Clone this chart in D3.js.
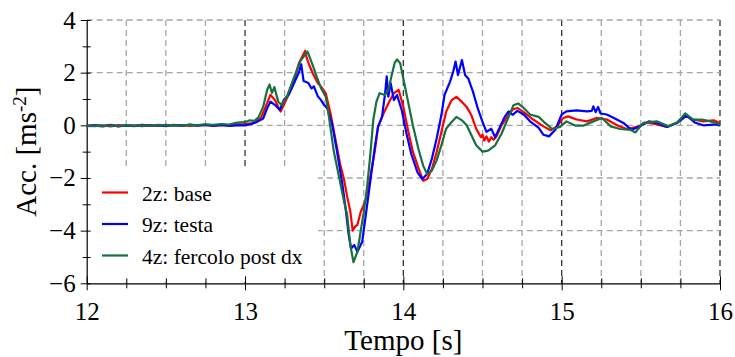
<!DOCTYPE html>
<html>
<head>
<meta charset="utf-8">
<script src="https://cdn.jsdelivr.net/npm/d3@7"></script>
<style>
  body { margin: 0; background: #fff; }
  svg { display: block; }
  svg text { font-family: "Liberation Serif", "Times New Roman", serif !important; fill: #000; }
</style>
</head>
<body>
<script>
// series labels and colours (legend order)
const seriesNames = ['2z: base', '9z: testa', '4z: fercolo post dx'];
const seriesColors = ['#ff0000', '#0000ff', '#17703f'];

// [time s, acc m/s^2]
const base = [
  [12.00,-0.02],[12.05,-0.03],[12.10,0.00],[12.15,-0.04],[12.20,0.01],[12.25,-0.02],[12.30,0.00],[12.35,-0.03],
  [12.40,0.01],[12.45,-0.02],[12.50,0.02],[12.55,-0.01],[12.60,0.01],[12.65,-0.02],[12.70,0.00],[12.75,0.02],
  [12.80,-0.01],[12.85,0.03],[12.90,0.00],[12.95,0.04],[13.00,0.05],[13.05,0.08],[13.10,0.27],[13.13,0.70],
  [13.16,1.16],[13.19,0.95],[13.225,0.52],[13.26,0.97],[13.30,1.48],[13.34,2.36],[13.38,2.83],[13.39,2.55],
  [13.405,2.30],[13.43,1.95],[13.46,1.60],[13.48,1.47],[13.51,1.22],[13.54,0.45],[13.57,-0.50],[13.60,-1.45],
  [13.625,-2.05],[13.645,-2.70],[13.665,-3.27],[13.68,-4.00],[13.695,-3.85],[13.71,-3.78],[13.73,-3.30],
  [13.76,-2.88],[13.79,-2.00],[13.82,-0.96],[13.84,-0.06],[13.875,0.45],[13.905,0.83],[13.94,1.22],[13.97,1.35],
  [14.00,0.70],[14.03,-0.20],[14.06,-1.00],[14.095,-1.62],[14.125,-2.10],[14.15,-2.04],[14.18,-1.66],
  [14.21,-1.02],[14.24,-0.25],[14.27,0.51],[14.305,0.96],[14.335,1.08],[14.37,0.89],[14.40,0.70],[14.43,0.38],
  [14.46,-0.13],[14.49,-0.45],[14.50,-0.35],[14.51,-0.58],[14.525,-0.42],[14.54,-0.62],[14.555,-0.45],
  [14.57,-0.55],[14.59,-0.40],[14.62,0.00],[14.645,0.22],[14.69,0.60],[14.72,0.66],[14.76,0.50],[14.82,0.22],
  [14.885,-0.04],[14.93,-0.19],[14.97,-0.04],[15.01,0.28],[15.04,0.34],[15.095,0.22],[15.16,0.15],[15.22,0.28],
  [15.285,0.22],[15.35,0.00],[15.41,-0.14],[15.475,-0.06],[15.54,0.11],[15.60,0.03],[15.665,-0.06],[15.73,0.11],
  [15.78,0.37],[15.83,0.22],[15.895,0.15],[15.96,0.19],[16.00,0.09]
];
const testa = [
  [12.00,-0.02],[12.05,0.01],[12.10,-0.03],[12.15,0.02],[12.20,-0.04],[12.25,0.00],[12.30,-0.03],[12.35,0.02],
  [12.40,-0.02],[12.45,0.01],[12.50,-0.03],[12.55,0.02],[12.60,-0.02],[12.65,0.03],[12.70,-0.01],[12.75,0.02],
  [12.80,-0.02],[12.85,0.01],[12.90,-0.02],[12.95,0.00],[13.00,0.00],[13.04,0.05],[13.075,0.13],[13.115,0.26],
  [13.14,0.65],[13.16,0.90],[13.19,0.77],[13.22,0.58],[13.245,0.97],[13.275,1.16],[13.31,1.61],[13.34,2.00],
  [13.355,2.32],[13.37,1.68],[13.40,1.61],[13.42,1.40],[13.435,1.48],[13.46,1.10],[13.48,0.96],[13.50,0.77],
  [13.52,0.64],[13.55,0.06],[13.58,-0.96],[13.615,-2.24],[13.635,-3.14],[13.655,-4.17],[13.67,-4.68],
  [13.69,-4.55],[13.71,-4.80],[13.74,-4.42],[13.76,-3.53],[13.78,-2.63],[13.80,-1.73],[13.82,-0.83],
  [13.84,-0.06],[13.865,0.32],[13.885,1.22],[13.895,1.86],[13.905,1.09],[13.92,1.60],[13.94,0.96],[13.96,1.15],
  [13.99,0.58],[14.02,-0.32],[14.05,-1.09],[14.09,-1.80],[14.12,-2.04],[14.15,-1.85],[14.18,-1.27],[14.21,-0.51],
  [14.24,0.38],[14.26,1.15],[14.295,1.66],[14.315,2.04],[14.33,2.42],[14.345,1.91],[14.37,2.48],[14.39,1.91],
  [14.41,1.78],[14.44,1.27],[14.47,0.64],[14.50,0.13],[14.525,-0.25],[14.555,-0.13],[14.58,-0.45],[14.61,-0.06],
  [14.64,0.32],[14.665,0.53],[14.69,0.40],[14.72,0.55],[14.76,0.41],[14.80,0.15],[14.855,-0.10],[14.885,-0.36],
  [14.92,-0.42],[14.96,-0.17],[15.00,0.41],[15.03,0.53],[15.095,0.57],[15.16,0.53],[15.19,0.55],[15.20,0.72],
  [15.215,0.50],[15.23,0.70],[15.245,0.45],[15.285,0.41],[15.33,0.28],[15.39,0.09],[15.44,-0.17],[15.495,-0.04],
  [15.55,0.15],[15.60,0.09],[15.665,-0.06],[15.73,0.09],[15.79,0.37],[15.84,0.11],[15.895,0.00],[15.96,0.03],
  [16.00,0.00]
];
const fercolo = [
  [12.00,-0.03],[12.05,-0.01],[12.10,-0.04],[12.15,0.00],[12.20,-0.03],[12.25,0.01],[12.30,-0.02],[12.35,0.00],
  [12.40,-0.01],[12.45,0.02],[12.50,0.00],[12.55,0.01],[12.60,-0.01],[12.65,0.02],[12.70,0.01],[12.75,0.04],
  [12.80,0.02],[12.85,0.05],[12.90,0.03],[12.95,0.10],[13.00,0.12],[13.03,0.19],[13.06,0.17],[13.085,0.30],
  [13.115,0.71],[13.14,1.35],[13.155,1.55],[13.17,1.23],[13.185,1.45],[13.21,0.90],[13.23,0.77],[13.265,1.10],
  [13.305,1.74],[13.35,2.45],[13.375,2.65],[13.395,2.80],[13.425,2.32],[13.455,1.81],[13.48,1.41],[13.51,1.09],
  [13.53,0.32],[13.56,-0.96],[13.595,-1.99],[13.625,-2.88],[13.645,-3.40],[13.665,-4.55],[13.685,-5.20],
  [13.71,-4.80],[13.73,-4.04],[13.75,-3.30],[13.77,-2.40],[13.79,-1.20],[13.81,0.20],[13.83,0.90],[13.85,1.22],
  [13.885,1.15],[13.905,1.35],[13.925,1.86],[13.945,2.37],[13.96,2.50],[13.98,2.36],[14.00,1.78],[14.03,0.89],
  [14.06,0.00],[14.095,-0.89],[14.125,-1.53],[14.15,-1.85],[14.18,-1.72],[14.21,-1.34],[14.24,-0.76],
  [14.27,-0.13],[14.305,0.13],[14.335,0.32],[14.37,0.19],[14.40,0.00],[14.43,-0.38],[14.46,-0.76],[14.50,-1.00],
  [14.535,-0.96],[14.58,-0.76],[14.62,-0.32],[14.66,0.25],[14.695,0.76],[14.725,0.83],[14.76,0.66],[14.80,0.41],
  [14.855,0.32],[14.895,0.09],[14.94,-0.14],[14.99,-0.06],[15.03,0.15],[15.085,-0.01],[15.14,-0.01],[15.20,0.15],
  [15.255,0.28],[15.31,-0.04],[15.37,-0.14],[15.435,-0.17],[15.465,-0.27],[15.515,0.09],[15.60,0.15],
  [15.675,-0.04],[15.73,0.11],[15.78,0.45],[15.83,0.22],[15.885,0.22],[15.94,0.15],[16.00,0.03]
];

// axis ticks
const xMajorTicks = [12, 13, 14, 15, 16];
const xMinorTicks = d3.range(0, 17).map(i => 12 + i * 0.25);
const yMajorTicks = [-6, -4, -2, 0, 2, 4];
const yMinorTicks = [-5, -3, -1, 1, 3];

const width = 735, height = 357;
const marginLeft = 86.7, marginRight = 15, marginTop = 20, marginBottom = 73.7;

const x = d3.scaleLinear([12, 16], [marginLeft, width - marginRight]);
const y = d3.scaleLinear([-6, 4], [height - marginBottom, marginTop]);

const svg = d3.select('body').append('svg')
    .attr('width', width)
    .attr('height', height)
    .attr('viewBox', [0, 0, width, height]);

// vertical grid (every 0.25 s, darker on whole seconds)
svg.append('g')
    .selectAll('line')
    .data(xMinorTicks.filter(t => t > 12))
    .join('line')
    .attr('x1', d => x(d)).attr('x2', d => x(d))
    .attr('y1', y(4)).attr('y2', y(-6))
    .attr('stroke', d => Number.isInteger(d) ? '#333' : '#a6a6a6')
    .attr('stroke-width', 1.3)
    .attr('stroke-dasharray', '6,4');

// horizontal grid on major y ticks
svg.append('g')
    .selectAll('line')
    .data(yMajorTicks.filter(v => v > -6))
    .join('line')
    .attr('x1', x(12)).attr('x2', x(16))
    .attr('y1', d => y(d)).attr('y2', d => y(d))
    .attr('stroke', '#a6a6a6')
    .attr('stroke-width', 1.3)
    .attr('stroke-dasharray', '6,4');

// legend background hides the grid
svg.append('rect')
    .attr('x', 88).attr('y', 167)
    .attr('width', 230).attr('height', 115)
    .attr('fill', '#fff');

// axes
svg.append('g')
    .attr('transform', `translate(0,${y(-6)})`)
    .call(d3.axisBottom(x).tickValues(xMinorTicks).tickSize(0).tickFormat(''))
    .call(g => g.select('.domain').attr('stroke', '#000').attr('stroke-width', 1.2))
    .call(g => g.selectAll('.tick line')
        .attr('stroke', '#000')
        .attr('y1', d => xMajorTicks.includes(d) ? -7 : -5)
        .attr('y2', d => xMajorTicks.includes(d) ? 7 : 5));

svg.append('g')
    .attr('transform', `translate(0,${y(-6)})`)
    .call(d3.axisBottom(x).tickValues(xMajorTicks).tickSize(0).tickFormat(d3.format('d')))
    .call(g => g.select('.domain').remove())
    .call(g => g.selectAll('text')
        .attr('y', 37).attr('dy', null)
        .attr('font-size', 25));

svg.append('g')
    .attr('transform', `translate(${x(12)},0)`)
    .call(d3.axisLeft(y).tickValues([...yMajorTicks, ...yMinorTicks]).tickSize(0).tickFormat(''))
    .call(g => g.select('.domain').attr('stroke', '#000').attr('stroke-width', 1.2))
    .call(g => g.selectAll('.tick line')
        .attr('stroke', '#000')
        .attr('x1', d => yMajorTicks.includes(d) ? -6 : -4)
        .attr('x2', 4));

svg.append('g')
    .attr('transform', `translate(${x(12)},0)`)
    .call(d3.axisLeft(y).tickValues(yMajorTicks).tickSize(0).tickFormat(d3.format('d')))
    .call(g => g.select('.domain').remove())
    .call(g => g.selectAll('text')
        .attr('x', -11)
        .attr('font-size', 25));

// axis titles
svg.append('text')
    .attr('x', (x(12) + x(16)) / 2)
    .attr('y', 350)
    .attr('text-anchor', 'middle')
    .attr('font-size', 29)
    .text('Tempo [s]');

const yTitle = svg.append('text')
    .attr('transform', `translate(36,${(y(4) + y(-6)) / 2}) rotate(-90)`)
    .attr('text-anchor', 'middle')
    .attr('font-size', 29);
yTitle.append('tspan').text('Acc. [ms');
yTitle.append('tspan').attr('baseline-shift', 'super').attr('font-size', 19).text('-2');
yTitle.append('tspan').text(']');

// data lines
const line = d3.line().x(d => x(d[0])).y(d => y(d[1]));
svg.append('g')
    .attr('fill', 'none')
    .attr('stroke-width', 2.2)
    .attr('stroke-linejoin', 'round')
    .selectAll('path')
    .data([base, testa, fercolo])
    .join('path')
    .attr('stroke', (d, i) => seriesColors[i])
    .attr('d', line);

// legend
const legend = svg.append('g')
    .selectAll('g')
    .data(seriesNames)
    .join('g')
    .attr('transform', (d, i) => `translate(102,${192.5 + i * 31.5})`);

legend.append('line')
    .attr('x2', 26)
    .attr('stroke', (d, i) => seriesColors[i])
    .attr('stroke-width', 2.2);

legend.append('text')
    .attr('x', 40)
    .attr('y', 8)
    .attr('font-size', 21.5)
    .text(d => d);
</script>
</body>
</html>
